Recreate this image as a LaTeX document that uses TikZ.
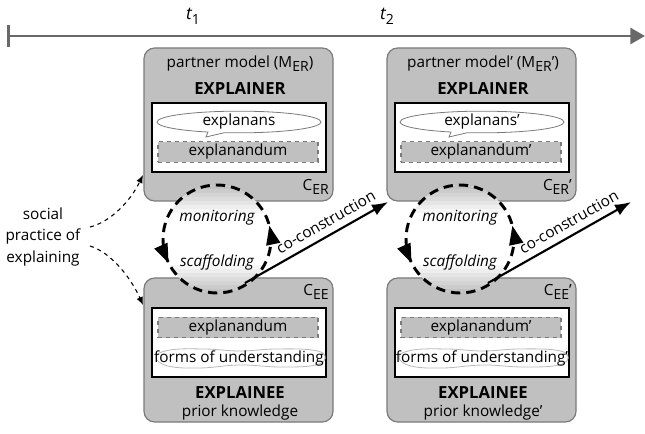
\documentclass[tikz,border=0pt]{standalone}
\usepackage{fontspec}
\setmainfont{Open Sans}
\usetikzlibrary{arrows.meta,shapes.callouts,shapes.geometric,calc}
\definecolor{boxgray}{HTML}{C0C0C0}
\definecolor{boxedge}{HTML}{7A7A7A}
\definecolor{tlgray}{HTML}{696969}
\newcommand{\sbs}[1]{\raisebox{-0.5ex}{\fontsize{10.5}{11}\selectfont #1}}
\tikzset{
  agent/.style={draw=boxedge, fill=boxgray, line width=0.9pt, rounded corners=8pt,
    minimum width=141.75pt, inner sep=0pt},
  innerbox/.style={draw=black, fill=white, line width=1pt, minimum width=130.5pt,
    minimum height=51.75pt, inner sep=0pt},
  dashbox/.style={draw=boxedge, fill=boxgray, dashed, line width=0.8pt,
    minimum width=120pt, minimum height=15.5pt, inner sep=0pt, font=\fontsize{11.5}{13}\selectfont},
  bubble/.style={ellipse callout, draw=boxedge, fill=white, line width=0.6pt,
    minimum width=123pt, minimum height=16pt, inner sep=0pt, callout pointer arc=12,
    font=\fontsize{11.5}{13}\selectfont},
  txt/.style={inner sep=0pt, font=\fontsize{11.5}{13}\selectfont},
  bold/.style={inner sep=0pt, font=\fontsize{12.5}{14}\selectfont\bfseries},
  ital/.style={inner sep=0pt, font=\fontsize{11.5}{13}\selectfont\itshape},
  cyc/.style={dashed, line width=2.2pt, dash pattern=on 7pt off 4.5pt},
  coarrow/.style={line width=1.6pt, -{Latex[length=12pt,width=9pt]}},
  spe/.style={dashed, line width=0.8pt, -{Latex[length=6pt,width=5pt]}},
}
% shaded cycle with two arrowheads, centred on a named coordinate
\newcommand{\cyclepic}[1]{%
  \begin{scope}[shift={(#1)}, x=1pt, y=1pt]
    \begin{scope}
      \clip (0,0) circle (40.5pt);
      \fill[white] (0,0) circle (40.5pt);
      \foreach \i in {0,...,27} {
        \pgfmathsetmacro{\yy}{-40.5+3*\i}
        \pgfmathsetmacro{\dd}{abs(\yy+1.5)}
        \pgfmathsetmacro{\kk}{max(0,(\dd-18)/22)*50}
        \fill[gray!\kk] (-41,\yy) rectangle (41,\yy+3.2);
      }
    \end{scope}
    \draw[cyc] (0,0) circle (40.5pt);
    \begin{scope}[shift={(206:40.5pt)}, rotate=294]
      \fill (0,0) -- (-14,5.5) -- (-14,-5.5) -- cycle;
    \end{scope}
    \begin{scope}[shift={(14:40.5pt)}, rotate=102]
      \fill (0,0) -- (-14,5.5) -- (-14,-5.5) -- cycle;
    \end{scope}
  \end{scope}}
\begin{document}
\begin{tikzpicture}[x=0.75pt,y=-0.75pt]
\useasboundingbox (0,0) rectangle (645,434);
% timeline
\coordinate (tl0) at (7,36);
\coordinate (tl1) at (645,36);
\draw[tlgray, line width=2.2pt, {Bar[width=16pt]}-{Triangle[length=11pt,width=12pt]}] (tl0) -- (tl1);
\node[txt, font=\fontsize{13}{15}\selectfont] (t1) at (193,16) {\itshape t\sbs{\upshape 1}};
\node[txt, font=\fontsize{13}{15}\selectfont] (t2) at (387,16) {\itshape t\sbs{\upshape 2}};

% ----- column 1 -----
\node[agent, minimum height=114.75pt] (er1) at (238.5,124.5) {};
\node[agent, minimum height=108pt] (ee1) at (238.5,350) {};
\node[txt] (pm1) at (240,64) {partner model (M\sbs{ER})};
\node[bold] (xr1) at (240,89) {EXPLAINER};
\node[innerbox] (ib1) at (239,137.5) {};
\node[bubble, callout absolute pointer={(206,137)}] (ans1) at (239,122) {explanans};
\node[dashbox] (and1) at (238,152) {explanandum};
\node[txt, anchor=east] (cer1) at (329,187) {C\sbs{ER}};

\node[txt, anchor=east] (cee1) at (329,292) {C\sbs{EE}};
\node[innerbox] (ib2) at (239,342.5) {};
\node[dashbox] (and2) at (238,327.5) {explanandum};
\draw[gray!55, line width=0.6pt] plot[smooth cycle, tension=0.7] coordinates
  {(156,357) (170,350) (205,349) (240,351) (275,349) (312,350) (325,356) (316,365) (280,367) (240,365) (200,368) (168,366)};
\node[txt] (fou1) at (239,358) {forms of understanding};
\node[bold] (xe1) at (240,393) {EXPLAINEE};
\node[txt] (pk1) at (240,413) {prior knowledge};

% cycle 1
\coordinate (c1) at (217,239);
\cyclepic{c1}
\node[ital] (mon1) at (217,218) {monitoring};
\node[ital] (sca1) at (217,262) {scaffolding};

% co-construction 1
\coordinate (a1s) at (245,283);
\coordinate (a1e) at (388,202);
\draw[coarrow] (a1s) -- (a1e) node[pos=0.61, sloped, above=5pt, txt] (cc1) {co-construction};

% ----- column 2 -----
\node[agent, minimum height=114.75pt] (er2) at (481.5,124.5) {};
\node[agent, minimum height=108pt] (ee2) at (481.5,350) {};
\node[txt] (pm2) at (483,64) {partner model' (M\sbs{ER}')};
\node[bold] (xr2) at (483,89) {EXPLAINER};
\node[innerbox] (ib3) at (482,137.5) {};
\node[bubble, callout absolute pointer={(449,137)}] (ans2) at (482,122) {explanans'};
\node[dashbox] (and3) at (481,152) {explanandum'};
\node[txt, anchor=east] (cer2) at (572,187) {C\sbs{ER}'};

\node[txt, anchor=east] (cee2) at (572,292) {C\sbs{EE}'};
\node[innerbox] (ib4) at (482,342.5) {};
\node[dashbox] (and4) at (481,327.5) {explanandum'};
\draw[gray!55, line width=0.6pt] plot[smooth cycle, tension=0.7] coordinates
  {(399,357) (413,350) (448,349) (483,351) (518,349) (555,350) (568,356) (559,365) (523,367) (483,365) (443,368) (411,366)};
\node[txt] (fou2) at (482,358) {forms of understanding'};
\node[bold] (xe2) at (483,393) {EXPLAINEE};
\node[txt] (pk2) at (483,413) {prior knowledge'};

% cycle 2
\coordinate (c2) at (460,239);
\cyclepic{c2}
\node[ital] (mon2) at (460,218) {monitoring};
\node[ital] (sca2) at (460,262) {scaffolding};

% co-construction 2
\coordinate (a2s) at (488,283);
\coordinate (a2e) at (631,202);
\draw[coarrow] (a2s) -- (a2e) node[pos=0.61, sloped, above=5pt, txt] (cc2) {co-construction};

% social practice
\node[txt, align=center, font=\fontsize{11.5}{16}\selectfont] (sp) at (43,237) {social\\practice of\\explaining};
\coordinate (s1) at (90,227);
\coordinate (s2) at (90,246);
\coordinate (e1) at (143,175);
\coordinate (e2) at (143,305);
\draw[spe] (s1) .. controls (110,222) and (130,202) .. (e1);
\draw[spe] (s2) .. controls (110,252) and (130,276) .. (e2);
\end{tikzpicture}
\end{document}
